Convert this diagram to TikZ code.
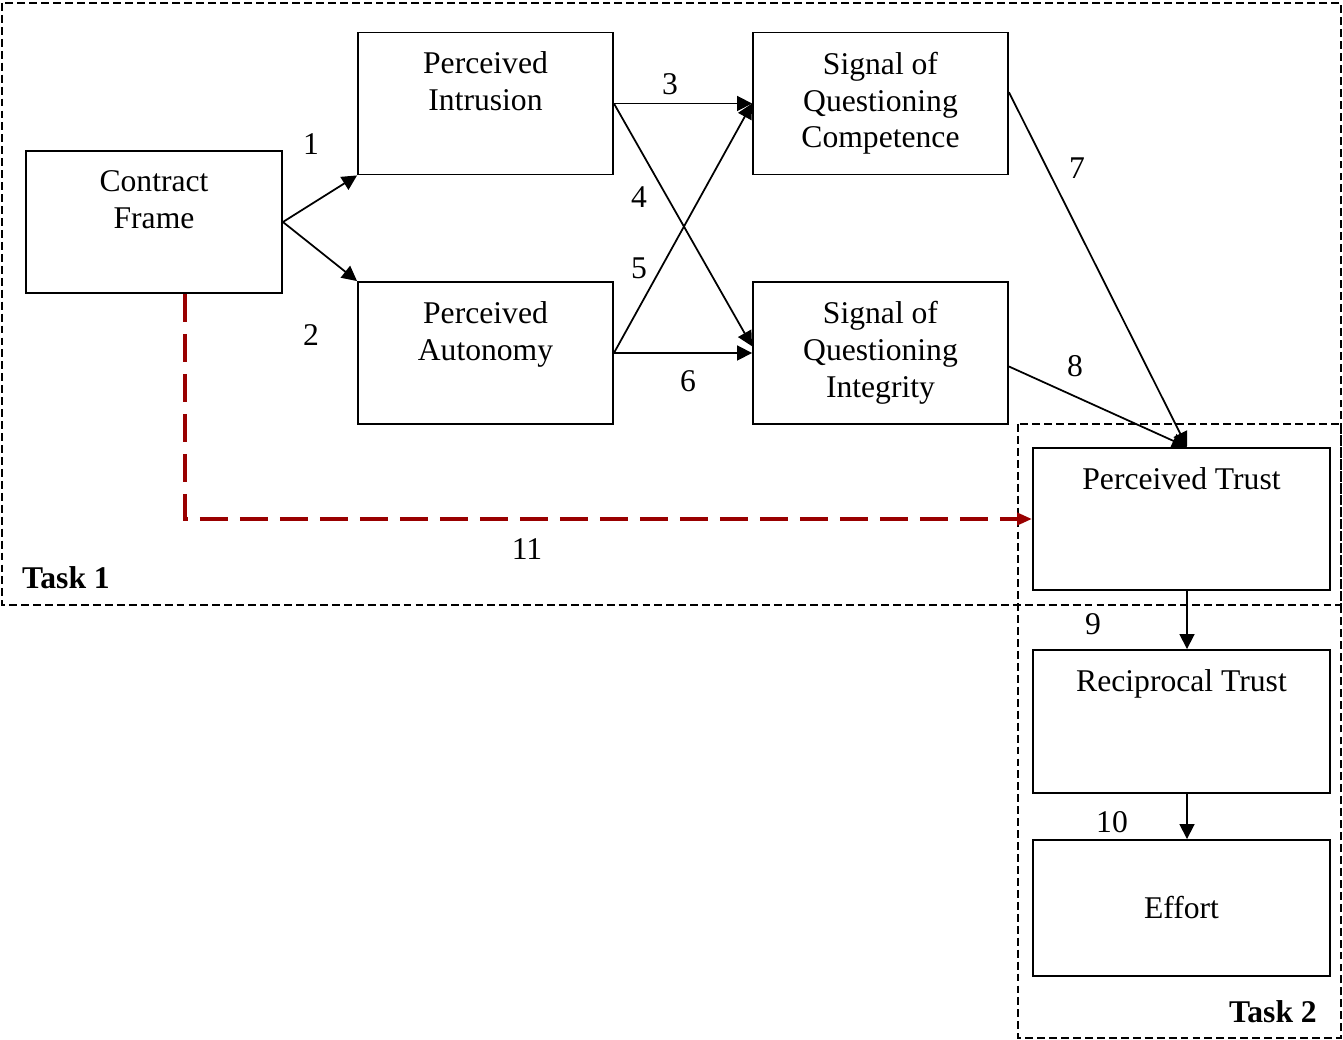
\documentclass[tikz,border=0pt]{standalone}
\usepackage{fontspec}
\setmainfont{Liberation Serif}
\usetikzlibrary{arrows.meta}
\definecolor{pathred}{RGB}{153,0,0}
\tikzset{
	box/.style={shape=rectangle, draw, line width=1.1pt, minimum width=5.1cm, minimum height=2.84cm},
	boxtext/.style={align=center, anchor=north, inner sep=0pt, yshift=-0.40cm},
	num/.style={inner sep=0pt},
	taskframe/.style={line width=0.8pt, dash pattern={on 4.5pt off 2.3pt}},
	link/.style={line width=1pt, -{Triangle[length=0.3cm, width=0.3cm]}},
	direct/.style={pathred, line width=2.3pt, dash pattern={on 0.56cm off 0.24cm}, -{Triangle[length=0.3cm, width=0.24cm]}}
}
\begin{document}
\begin{tikzpicture}[x=0.02cm, y=-0.02cm, every node/.style={font=\fontsize{18}{21}\selectfont}]
	\useasboundingbox (0,0) rectangle (1343,1040);
	\draw[taskframe] (2,3) rectangle (1341,605);
	\draw[taskframe] (1018,424) rectangle (1341,1038);
	\node[box, minimum width=5.12cm, label={[boxtext]north:Contract\\Frame}] (frame) at (154,222){};
	\node[box, label={[boxtext]north:Perceived\\Intrusion}] (intr) at (485.5,103.5){};
	\node[box, label={[boxtext]north:Perceived\\Autonomy}] (auton) at (485.5,353){};
	\node[box, label={[boxtext]north:Signal of\\Questioning\\Competence}] (comp) at (880.5,103.5){};
	\node[box, label={[boxtext]north:Signal of\\Questioning\\Integrity}] (integ) at (880.5,353){};
	\node[box, minimum width=5.94cm, label={[boxtext]north:Perceived Trust}] (trust) at (1181.5,519){};
	\node[box, minimum width=5.94cm, minimum height=2.86cm, label={[boxtext]north:Reciprocal Trust}] (recip) at (1181.5,721.5){};
	\node[box, minimum width=5.94cm, minimum height=2.72cm] (effort) at (1181.5,908){Effort};
	\draw[link] (frame.east) -- (intr.south west);
	\draw[link] (frame.east) -- (auton.north west);
	\draw[link] (intr.east) -- (comp.west);
	\draw[link] (intr.east) -- (integ.177);
	\draw[link] (auton.east) -- (comp.west);
	\draw[link] (auton.east) -- (integ.west);
	\draw[link] (comp.5) -- ([xshift=0.11cm]trust.north);
	\draw[link] (integ.-6) -- ([xshift=0.11cm]trust.north);
	\draw[link] ([xshift=0.11cm]trust.south) -- ([xshift=0.11cm]recip.north);
	\draw[link] ([xshift=0.11cm]recip.south) -- ([xshift=0.11cm]effort.north);
	\draw[direct] ([xshift=0.62cm]frame.south) |- (trust.west);
	\node[num] (n1) at (311,144){1};
	\node[num] (n2) at (311,335){2};
	\node[num] (n3) at (670,84){3};
	\node[num] (n4) at (639,197){4};
	\node[num] (n5) at (639,268){5};
	\node[num] (n6) at (688,381){6};
	\node[num] (n7) at (1077,168){7};
	\node[num] (n8) at (1075,366){8};
	\node[num] (n9) at (1093,624){9};
	\node[num] (n10) at (1112,822){10};
	\node[num] (n11) at (527,549){11};
	\node[font=\fontsize{18}{21}\selectfont\bfseries] (task1) at (66,578){Task 1};
	\node[font=\fontsize{18}{21}\selectfont\bfseries] (task2) at (1273,1012){Task 2};
\end{tikzpicture}
\end{document}
